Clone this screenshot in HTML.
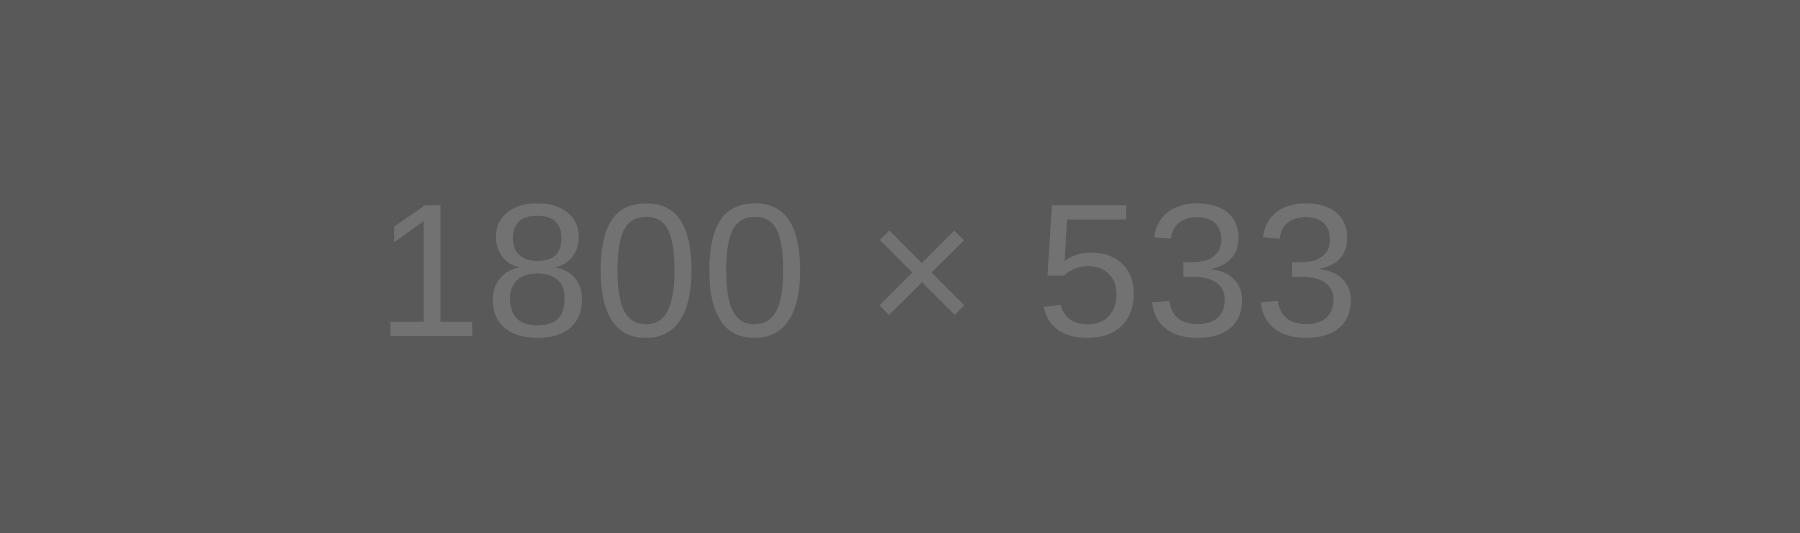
<!DOCTYPE html>
<html>
<head>
<meta charset="utf-8">
<style>
  html, body { margin: 0; padding: 0; }
  body {
    width: 1800px; height: 533px; overflow: hidden;
    background: #595959;
    position: relative;
    font-family: "Liberation Sans", "DejaVu Sans", sans-serif;
  }
  #label {
    position: absolute;
    left: 0; width: 1738px;
    top: 171px;
    text-align: center;
    font-size: 190px;
    letter-spacing: 3px;
    line-height: 200px;
    color: #727272;
    font-weight: normal;
    white-space: nowrap;
  }
</style>
</head>
<body>
  <div id="label">1800 × 533</div>
</body>
</html>
